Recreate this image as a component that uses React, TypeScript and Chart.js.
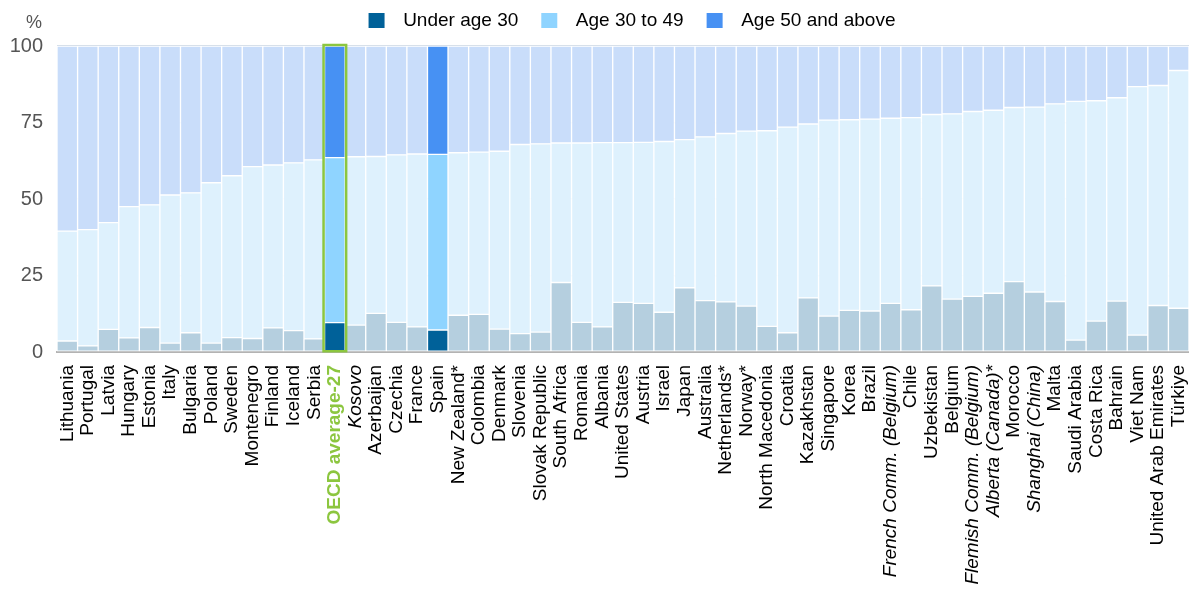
import React, { useEffect, useRef } from "react";
import { Chart, registerables } from "chart.js";

Chart.register(...registerables);

const categories = [
  "Lithuania", "Portugal", "Latvia", "Hungary", "Estonia", "Italy", "Bulgaria", "Poland", "Sweden",
  "Montenegro", "Finland", "Iceland", "Serbia", "OECD average-27", "Kosovo", "Azerbaijan", "Czechia",
  "France", "Spain", "New Zealand*", "Colombia", "Denmark", "Slovenia", "Slovak Republic", "South Africa",
  "Romania", "Albania", "United States", "Austria", "Israel", "Japan", "Australia", "Netherlands*",
  "Norway*", "North Macedonia", "Croatia", "Kazakhstan", "Singapore", "Korea", "Brazil",
  "French Comm. (Belgium)", "Chile", "Uzbekistan", "Belgium", "Flemish Comm. (Belgium)",
  "Alberta (Canada)*", "Morocco", "Shanghai (China)", "Malta", "Saudi Arabia", "Costa Rica", "Bahrain",
  "Viet Nam", "United Arab Emirates", "Türkiye",
];

const under30 = [
  3.6, 2.0, 7.4, 4.6, 8.0, 2.9, 6.3, 2.9, 4.7, 4.4, 7.9, 7.0, 4.3, 9.6, 8.8, 12.6, 9.7, 8.2, 7.2, 12.0,
  12.3, 7.5, 6.0, 6.5, 22.7, 9.7, 8.2, 16.2, 15.9, 13.0, 21.0, 16.8, 16.4, 15.0, 8.4, 6.3, 17.7, 11.7,
  13.6, 13.4, 15.9, 13.8, 21.6, 17.3, 18.2, 19.2, 23.0, 19.6, 16.5, 3.9, 10.1, 16.6, 5.5, 15.2, 14.3,
];

const age30to49 = [
  35.9, 38.0, 34.9, 42.9, 40.1, 48.4, 45.7, 52.4, 52.9, 56.2, 53.2, 54.8, 58.5, 53.9, 55.0, 51.3, 54.7,
  56.5, 57.4, 53.1, 53.0, 58.1, 61.8, 61.5, 45.6, 58.6, 60.2, 52.2, 52.6, 55.8, 48.4, 53.5, 55.0, 57.2,
  63.9, 67.2, 56.8, 64.1, 62.3, 62.7, 60.5, 62.8, 56.0, 60.5, 60.4, 59.8, 56.9, 60.4, 64.6, 78.0, 72.0,
  66.5, 81.2, 71.9, 77.7,
];

const age50plus = [
  60.5, 60.0, 57.7, 52.5, 51.9, 48.7, 48.0, 44.7, 42.4, 39.4, 38.9, 38.2, 37.2, 36.5, 36.2, 36.1, 35.6,
  35.3, 35.4, 34.9, 34.7, 34.4, 32.2, 32.0, 31.7, 31.7, 31.6, 31.6, 31.5, 31.2, 30.6, 29.7, 28.6, 27.8,
  27.7, 26.5, 25.5, 24.2, 24.1, 23.9, 23.6, 23.4, 22.4, 22.2, 21.4, 21.0, 20.1, 20.0, 18.9, 18.1, 17.9,
  16.9, 13.3, 12.9, 8.0,
];

const seriesNames = ["Under age 30", "Age 30 to 49", "Age 50 and above"];
const yTickValues = [0, 25, 50, 75, 100];
const italicCategories = ["Kosovo", "French Comm. (Belgium)", "Flemish Comm. (Belgium)", "Alberta (Canada)*", "Shanghai (China)"];
const averageCategory = "OECD average-27";
const highlightedCategories = ["OECD average-27", "Spain"];

const FONT = "'Liberation Sans', Arial, sans-serif";
const normalColors = ["#b5cfdf", "#def1fd", "#c9ddfa"];
const strongColors = ["#006199", "#8fd4ff", "#4791f3"];
const GREEN = "#8cc63f";

const extrasPlugin = {
  id: "extras",
  afterInit(chart: any) {
    const legend = chart.legend;
    if (!legend) return;
    const origFit = legend.fit;
    legend.fit = function () {
      origFit.call(this);
      this.height = 46;
    };
    const origDraw = legend.draw;
    legend.draw = function () {
      const c = this.ctx;
      c.save();
      c.translate(9, -12);
      origDraw.call(this);
      c.restore();
    };
  },
  afterDatasetsDraw(chart: any) {
    const idx = categories.indexOf(averageCategory);
    const m0 = chart.getDatasetMeta(0).data[idx];
    const m2 = chart.getDatasetMeta(2).data[idx];
    if (!m0 || !m2) return;
    const ctx = chart.ctx;
    const w = m0.width;
    ctx.save();
    ctx.strokeStyle = GREEN;
    ctx.lineWidth = 2.5;
    ctx.strokeRect(m0.x - w / 2 - 1, m2.y - 1, w + 2, m0.base - m2.y + 1);
    ctx.restore();
  },
  afterDraw(chart: any) {
    const y = chart.scales.y;
    const ctx = chart.ctx;
    ctx.save();
    ctx.fillStyle = "#555555";
    ctx.font = `18px ${FONT}`;
    ctx.textAlign = "center";
    ctx.textBaseline = "middle";
    ctx.fillText("%", y.left + 34, 23);
    ctx.restore();
  },
};

export default function App() {
  const ref = useRef<HTMLCanvasElement | null>(null);

  useEffect(() => {
    document.body.style.margin = "0";
    if (!ref.current) return;
    const colorsFor = (s: number) =>
      categories.map((c) => (highlightedCategories.includes(c) ? strongColors[s] : normalColors[s]));
    const chart = new Chart(ref.current, {
      type: "bar",
      data: {
        labels: categories,
        datasets: [under30, age30to49, age50plus].map((d, s) => ({
          label: seriesNames[s],
          data: d,
          backgroundColor: colorsFor(s),
          borderColor: "#ffffff",
          borderWidth: 1,
          borderSkipped: false,
          barPercentage: 1,
          categoryPercentage: 1,
        })),
      },
      options: {
        animation: false,
        responsive: true,
        maintainAspectRatio: false,
        layout: { padding: { top: 0, left: 0, right: 0, bottom: 0 } },
        plugins: {
          tooltip: { enabled: false },
          legend: {
            position: "top",
            fullSize: false,
            labels: {
              boxWidth: 16,
              boxHeight: 15,
              padding: 23,
              color: "#000000",
              font: { size: 19, family: FONT },
              generateLabels: () =>
                seriesNames.map((n, i) => ({
                  text: " \u2009" + n,
                  fillStyle: strongColors[i],
                  strokeStyle: strongColors[i],
                  lineWidth: 0,
                  hidden: false,
                  datasetIndex: i,
                })),
            },
          },
        },
        scales: {
          x: {
            stacked: true,
            grid: { display: true, color: "rgba(0,0,0,0)", drawTicks: false, drawOnChartArea: false },
            border: { display: true, color: "#b3b3b3", width: 2 },
            ticks: {
              autoSkip: false,
              maxRotation: 90,
              minRotation: 90,
              padding: 13,
              color: (ctx: any) => (categories[ctx.index] === averageCategory ? GREEN : "#000000"),
              font: (ctx: any) => {
                const c = categories[ctx.index];
                return {
                  size: 19,
                  family: FONT,
                  style: italicCategories.includes(c) ? "italic" : "normal",
                  weight: c === averageCategory ? "bold" : "normal",
                };
              },
            },
            afterFit: (scale: any) => {
              scale.height = 238;
              scale.paddingLeft = 0;
              scale.paddingRight = 0;
            },
          },
          y: {
            stacked: true,
            min: 0,
            max: 100,
            z: 1,
            afterBuildTicks: (scale: any) => {
              scale.ticks = yTickValues.map((v) => ({ value: v }));
            },
            grid: { color: "rgba(140,165,195,0.35)", lineWidth: 1.5, drawTicks: false },
            border: { display: false },
            ticks: {
              padding: 14,
              color: "#555555",
              font: { size: 20, family: FONT },
            },
            afterFit: (scale: any) => {
              scale.width = 57;
            },
          },
        },
      },
      plugins: [extrasPlugin],
    } as any);
    return () => chart.destroy();
  }, []);

  return (
    <div style={{ width: 1189, height: 590, position: "relative" }}>
      <canvas ref={ref} />
    </div>
  );
}
